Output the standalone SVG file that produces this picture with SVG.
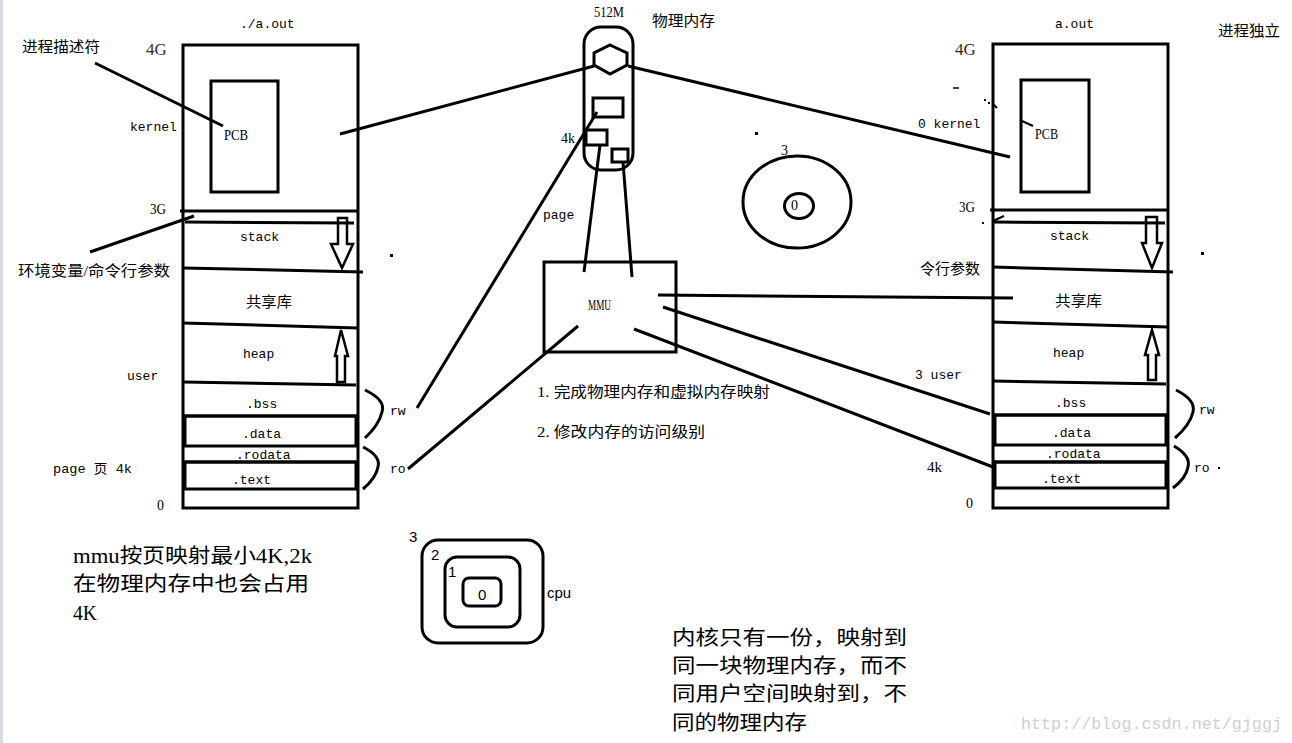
<svg xmlns="http://www.w3.org/2000/svg" width="1292" height="743" viewBox="0 0 1292 743">
<style>
.s{fill:none;stroke:#000;stroke-width:3}
.t{fill:none;stroke:#000;stroke-width:2.5}
.m{font-family:"Liberation Mono","Noto Sans CJK SC",monospace;font-size:13px;fill:#000}
.r{font-family:"Liberation Serif",serif;font-size:14px;fill:#000}
.c{font-family:"Liberation Serif","Noto Sans CJK SC",serif;font-size:15px;fill:#000}
.b{font-family:"Liberation Serif","Noto Sans CJK SC",serif;font-size:20px;fill:#000}
.g{font-family:"Liberation Serif",serif;font-size:17px;fill:#3b2a14}
.p{font-family:"Liberation Sans","Noto Sans",sans-serif;font-size:15px;fill:#000}
</style>
<rect width="1292" height="743" fill="#fff"/>
<rect x="0" y="0" width="3" height="743" fill="#d4dcea"/>

<g id="left-space">
  <rect class="s" x="183" y="45" width="175" height="463"/>
  <rect class="s" x="211" y="81" width="67" height="111"/>
  <line class="s" x1="180" y1="211" x2="358" y2="211"/>
  <line class="s" x1="185" y1="222" x2="354" y2="223"/>
  <line class="s" x1="183" y1="268" x2="363" y2="272"/>
  <line class="s" x1="183" y1="323" x2="358" y2="328"/>
  <line class="s" x1="183" y1="382" x2="356" y2="385"/>
  <line class="s" x1="183" y1="416" x2="358" y2="416"/>
  <rect class="s" x="185" y="416" width="171" height="30"/>
  <line class="s" x1="183" y1="462" x2="358" y2="462"/>
  <rect class="s" x="185" y="462" width="171" height="27"/>
  <polygon class="t" points="338,218 347,218 347,244 353,244 342,268 331,244 338,244"/>
  <polygon class="t" points="337,382 345,382 345,356 348,356 341,330 335,356 337,356"/>
  <path class="s" d="M365,390 Q386,400 382,412 Q379,425 365,438"/>
  <path class="s" d="M363,447 Q381,456 378,467 Q376,478 363,489"/>
  <text class="m" x="240" y="28">./a.out</text>
  <text class="g" x="146" y="55">4G</text>
  <text class="c" x="22" y="52" textLength="78" lengthAdjust="spacingAndGlyphs">进程描述符</text>
  <text class="m" x="130" y="131">kernel</text>
  <text class="r" x="224" y="140" textLength="24" lengthAdjust="spacingAndGlyphs">PCB</text>
  <text class="r" x="150" y="214" textLength="16" lengthAdjust="spacingAndGlyphs">3G</text>
  <text class="m" x="240" y="241">stack</text>
  <text class="c" x="18" y="276" textLength="152" lengthAdjust="spacingAndGlyphs">环境变量/命令行参数</text>
  <text class="c" x="246" y="307" textLength="46" lengthAdjust="spacingAndGlyphs">共享库</text>
  <text class="m" x="243" y="358">heap</text>
  <text class="m" x="127" y="380">user</text>
  <text class="m" x="246" y="408">.bss</text>
  <text class="m" x="242" y="438">.data</text>
  <text class="m" x="236" y="459">.rodata</text>
  <text class="m" x="232" y="484">.text</text>
  <text class="m" x="53" y="473" textLength="79" lengthAdjust="spacingAndGlyphs">page 页 4k</text>
  <text class="r" x="157" y="510">0</text>
  <text class="m" x="390" y="415">rw</text>
  <text class="m" x="390" y="473">ro</text>
  <rect x="390" y="254" width="3" height="3" fill="#000"/>
</g>

<g id="physical-memory">
  <rect class="s" x="584" y="27" width="49" height="143" rx="17"/>
  <polygon class="s" points="610,45 627,53 627,65 610,74 594,65 594,53"/>
  <rect class="s" x="593" y="98" width="30" height="19"/>
  <rect class="s" x="586" y="130" width="21" height="15"/>
  <rect class="s" x="612" y="149" width="16" height="13"/>
  <text class="r" x="594" y="17" textLength="30" lengthAdjust="spacingAndGlyphs">512M</text>
  <text class="c" x="652" y="26" textLength="63" lengthAdjust="spacingAndGlyphs">物理内存</text>
  <text class="r" x="561" y="143" textLength="14" lengthAdjust="spacingAndGlyphs">4k</text>
  <text class="m" x="543" y="219">page</text>
</g>

<g id="mmu">
  <rect class="s" x="544" y="262" width="132" height="90"/>
  <text class="r" x="588" y="310" textLength="23" lengthAdjust="spacingAndGlyphs">MMU</text>
  <text class="c" x="537" y="397" textLength="233" lengthAdjust="spacingAndGlyphs">1. 完成物理内存和虚拟内存映射</text>
  <text class="c" x="537" y="437" textLength="168" lengthAdjust="spacingAndGlyphs">2. 修改内存的访问级别</text>
</g>

<g id="ring-ellipse">
  <ellipse class="s" cx="797" cy="202" rx="54" ry="46"/>
  <ellipse class="s" cx="799" cy="206" rx="14.5" ry="12.5"/>
  <text class="r" x="781" y="155">3</text>
  <text class="r" x="791" y="210">0</text>
  <rect x="755" y="132" width="3" height="3" fill="#000"/>
</g>

<g id="right-space">
  <rect class="s" x="993" y="44" width="175" height="464"/>
  <rect class="s" x="1021" y="80" width="68" height="112"/>
  <line class="s" x1="990" y1="210" x2="1168" y2="210"/>
  <line class="s" x1="993" y1="222" x2="1165" y2="223"/>
  <line class="s" x1="993" y1="267" x2="1173" y2="272"/>
  <line class="s" x1="993" y1="322" x2="1168" y2="327"/>
  <line class="s" x1="993" y1="381" x2="1166" y2="384"/>
  <line class="s" x1="993" y1="415" x2="1168" y2="415"/>
  <rect class="s" x="995" y="415" width="171" height="30"/>
  <line class="s" x1="993" y1="462" x2="1168" y2="462"/>
  <rect class="s" x="995" y="462" width="171" height="26"/>
  <polygon class="t" points="1146,217 1157,217 1157,243 1162,243 1152,268 1142,243 1146,243"/>
  <polygon class="t" points="1148,380 1156,380 1156,355 1159,355 1152,330 1145,355 1148,355"/>
  <path class="s" d="M1176,390 Q1196,400 1193,412 Q1190,425 1175,438"/>
  <path class="s" d="M1174,446 Q1191,456 1188,467 Q1186,478 1173,488"/>
  <text class="m" x="1055" y="28">a.out</text>
  <text class="c" x="1218" y="36" textLength="62" lengthAdjust="spacingAndGlyphs">进程独立</text>
  <text class="g" x="955" y="55">4G</text>
  <text class="m" x="918" y="128">0  kernel</text>
  <text class="r" x="1035" y="139" textLength="23" lengthAdjust="spacingAndGlyphs">PCB</text>
  <text class="r" x="959" y="212" textLength="16" lengthAdjust="spacingAndGlyphs">3G</text>
  <text class="m" x="1050" y="240">stack</text>
  <text class="c" x="920" y="274" textLength="60" lengthAdjust="spacingAndGlyphs">令行参数</text>
  <text class="c" x="1055" y="306" textLength="47" lengthAdjust="spacingAndGlyphs">共享库</text>
  <text class="m" x="1053" y="357">heap</text>
  <text class="m" x="915" y="379">3  user</text>
  <text class="m" x="1055" y="407">.bss</text>
  <text class="m" x="1052" y="437">.data</text>
  <text class="m" x="1046" y="458">.rodata</text>
  <text class="m" x="1042" y="483">.text</text>
  <text class="r" x="927" y="472" textLength="15" lengthAdjust="spacingAndGlyphs">4k</text>
  <text class="r" x="966" y="508">0</text>
  <text class="m" x="1199" y="414">rw</text>
  <text class="m" x="1194" y="472">ro</text>
  <rect x="1218" y="467" width="2" height="2" fill="#000"/>
  <line x1="953" y1="88" x2="959" y2="88" stroke="#000" stroke-width="1.5"/>
  <rect x="984" y="99" width="2" height="2" fill="#000"/>
  <rect x="988" y="102" width="2" height="2" fill="#000"/>
  <line x1="993" y1="104" x2="997" y2="108" stroke="#000" stroke-width="2"/>
  <line x1="1022" y1="121" x2="1033" y2="126" stroke="#000" stroke-width="2"/>
  <line x1="1004" y1="216" x2="993" y2="221" stroke="#000" stroke-width="2"/>
  <rect x="982" y="222" width="2" height="2" fill="#000"/>
  <rect x="1201" y="252" width="3" height="3" fill="#000"/>
</g>

<g id="cpu-rings">
  <rect class="s" x="422" y="540" width="121" height="103" rx="16"/>
  <rect class="s" x="445" y="557" width="75" height="70" rx="12"/>
  <rect class="s" x="463" y="578" width="38" height="28" rx="6"/>
  <text class="p" x="409" y="542" font-size="14">3</text>
  <text class="p" x="431" y="560" font-size="14">2</text>
  <text class="p" x="448" y="577" font-size="14">1</text>
  <text class="p" x="478" y="600" font-size="14">0</text>
  <text class="p" x="547" y="598">cpu</text>
</g>

<g id="notes">
  <text class="b" x="73" y="563" textLength="239" lengthAdjust="spacingAndGlyphs">mmu按页映射最小4K,2k</text>
  <text class="b" x="73" y="591" textLength="236" lengthAdjust="spacingAndGlyphs">在物理内存中也会占用</text>
  <text class="b" x="73" y="620" textLength="24" lengthAdjust="spacingAndGlyphs">4K</text>
  <text class="b" x="672" y="645" textLength="235" lengthAdjust="spacingAndGlyphs">内核只有一份，映射到</text>
  <text class="b" x="672" y="673" textLength="235" lengthAdjust="spacingAndGlyphs">同一块物理内存，而不</text>
  <text class="b" x="672" y="701" textLength="235" lengthAdjust="spacingAndGlyphs">同用户空间映射到，不</text>
  <text class="b" x="672" y="730" textLength="135" lengthAdjust="spacingAndGlyphs">同的物理内存</text>
  <text x="1021" y="729" font-family="Liberation Mono,monospace" font-size="16.5" fill="#cfcfcf" textLength="261" lengthAdjust="spacingAndGlyphs">http://blog.csdn.net/gjggj</text>
</g>

<g id="connectors" stroke="#000" stroke-width="3" fill="none">
  <line x1="95" y1="63" x2="223" y2="126"/>
  <line x1="90" y1="252" x2="194" y2="216"/>
  <line x1="340" y1="134" x2="594" y2="66"/>
  <line x1="628" y1="66" x2="1010" y2="157"/>
  <line x1="597" y1="112" x2="417" y2="408"/>
  <line x1="600" y1="145" x2="584" y2="272"/>
  <line x1="623" y1="162" x2="632" y2="277"/>
  <line x1="578" y1="326" x2="408" y2="469"/>
  <line x1="658" y1="295" x2="1013" y2="298"/>
  <line x1="663" y1="307" x2="990" y2="414"/>
  <line x1="634" y1="329" x2="993" y2="467"/>
</g>
</svg>
